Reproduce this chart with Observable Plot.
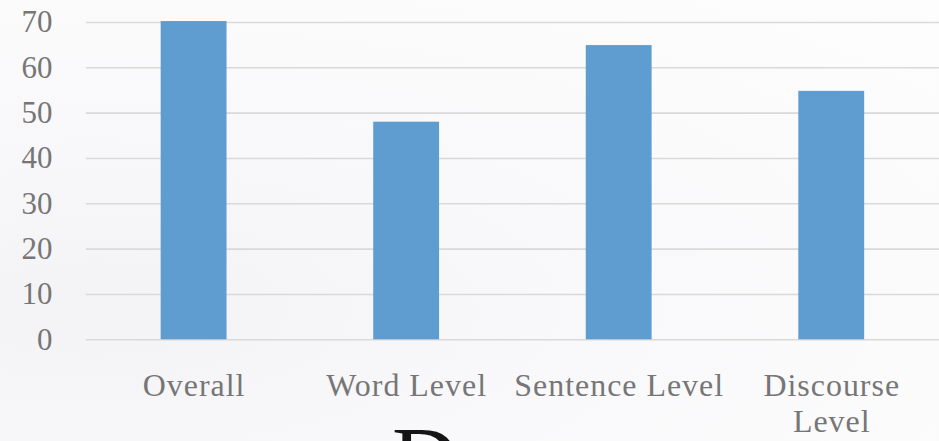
<!DOCTYPE html>
<html>
<head>
<meta charset="utf-8">
<script src="https://cdn.jsdelivr.net/npm/d3@7"></script>
<script src="https://cdn.jsdelivr.net/npm/@observablehq/plot@0.6"></script>
<style>
  html, body { margin: 0; padding: 0; overflow: hidden; width: 939px; height: 441px; }
  body { background: radial-gradient(ellipse at 10% 70%, #f3f3f5 0%, #f8f8fa 35%, #fbfbfc 70%, #fdfdfd 100%); position: relative; }
  #chart svg { display: block; background: transparent; }
  g[aria-label="x-axis tick label"] text { letter-spacing: 1px; }
  #dletter { position: absolute; left: 392px; top: 413px; font-family: "Liberation Serif", serif; font-size: 92px; line-height: 1; color: #151515; }
</style>
</head>
<body>
<div id="chart"></div>
<div id="dletter">D</div>
<script>
const categories = ["Overall", "Word Level", "Sentence Level", "Discourse Level"];
const values = [70.2, 48, 64.9, 54.8];
const tickLabels = ["Overall", "Word Level", "Sentence Level", "Discourse\nLevel"];
const yTicks = [0, 10, 20, 30, 40, 50, 60, 70];

const data = categories.map((c, i) => ({category: c, value: values[i]}));
const labelOf = new Map(categories.map((c, i) => [c, tickLabels[i]]));

const chart = Plot.plot({
  width: 941,
  height: 441,
  marginLeft: 86,
  marginRight: 0,
  marginTop: 22,
  marginBottom: 101,
  style: {fontFamily: "'Liberation Serif', serif", color: "#767676", background: "transparent", overflow: "visible"},
  x: {domain: categories, paddingInner: 0.69, paddingOuter: 0.345, label: null},
  y: {domain: [0, 70], label: null},
  marks: [
    Plot.ruleY(yTicks, {stroke: "#d9d9d9", strokeWidth: 1.6}),
    Plot.barY(data, {x: "category", y: "value", fill: "#5f9dd1"}),
    Plot.axisY(yTicks, {tickSize: 0, tickPadding: 34, fontSize: 31, label: null}),
    Plot.axisX({tickSize: 0, tickPadding: 31, fontSize: 32, lineHeight: 1.12, tickFormat: d => labelOf.get(d), label: null})
  ]
});
document.getElementById("chart").appendChild(chart);
</script>
</body>
</html>
